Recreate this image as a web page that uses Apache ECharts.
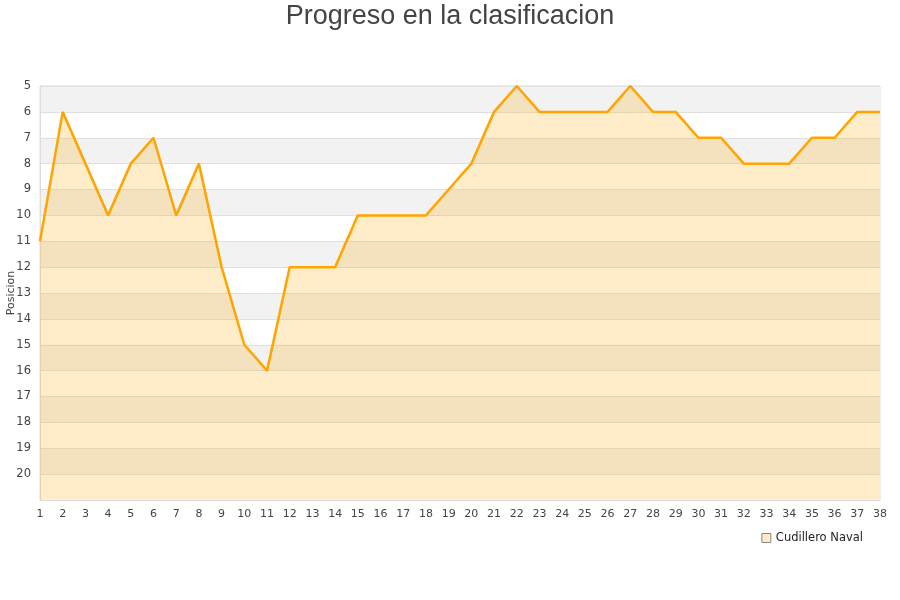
<!DOCTYPE html>
<html><head><meta charset="utf-8">
<script src="https://cdn.jsdelivr.net/npm/echarts@6/dist/echarts.min.js"></script>
<style>html,body{margin:0;padding:0;background:#fff}#c{width:900px;height:600px}</style>
</head><body><div id="c"></div>
<script>
const jornadas = ['1','2','3','4','5','6','7','8','9','10','11','12','13','14','15','16','17','18','19','20','21','22','23','24','25','26','27','28','29','30','31','32','33','34','35','36','37','38'];
const posiciones = [11,6,8,10,8,7,10,8,12,15,16,12,12,12,10,10,10,10,9,8,6,5,6,6,6,6,5,6,6,7,7,8,8,8,7,7,6,6];
const equipo = 'Cudillero Naval';
const titulo = 'Progreso en la clasificacion';
const ejeY = 'Posicion';

const chart = echarts.init(document.getElementById('c'));
chart.setOption({
  animation: false,
  title: { text: titulo, left: 'center', top: -2, textStyle: { fontFamily: 'Liberation Sans', fontSize: 27, fontWeight: 'normal', color: '#444' } },
  grid: { left: 40, right: 20, top: 86, bottom: 100, show: true, borderColor: '#ddd', borderWidth: 1, containLabel: false, outerBoundsMode: 'none' },
  legend: { right: 32, top: 527, itemWidth: 9, itemHeight: 9, icon: 'rect', itemGap: 10,
    textStyle: { fontFamily: 'DejaVu Sans', fontSize: 11.5, color: '#222' },
    data: [{ name: equipo, itemStyle: { color: '#fdebc8', borderColor: '#888', borderWidth: 1 } }] },
  xAxis: { type: 'category', data: jornadas, boundaryGap: false,
    axisLine: { show: true, lineStyle: { color: '#ddd' } }, axisTick: { show: false },
    axisLabel: { fontFamily: 'DejaVu Sans', fontSize: 11, color: '#444', margin: 9, interval: 0 },
    splitLine: { show: false } },
  yAxis: { type: 'value', inverse: true, min: 5, max: 21, interval: 1,
    name: ejeY, nameLocation: 'middle', nameGap: 23, nameRotate: 90, nameMoveOverlap: false,
    nameTextStyle: { fontFamily: 'DejaVu Sans', fontSize: 11, color: '#444' },
    axisLine: { show: true, lineStyle: { color: '#ddd' } }, axisTick: { show: false },
    axisLabel: { fontFamily: 'DejaVu Sans', fontSize: 11.5, color: '#444', margin: 9,
      formatter: v => v === 21 ? '' : String(v) },
    splitLine: { show: true, lineStyle: { color: '#e0e0e0', width: 1 } },
    splitArea: { show: true, areaStyle: { color: ['#f2f2f2', '#ffffff'] } } },
  series: [{
    name: equipo, type: 'line', data: posiciones, symbol: 'none',
    lineStyle: { color: '#ffa500', width: 2.5 },
    itemStyle: { color: '#fdebc8' },
    areaStyle: { color: 'rgba(255,165,0,0.21)', opacity: 1, origin: 'end' }
  }]
});
</script></body></html>
